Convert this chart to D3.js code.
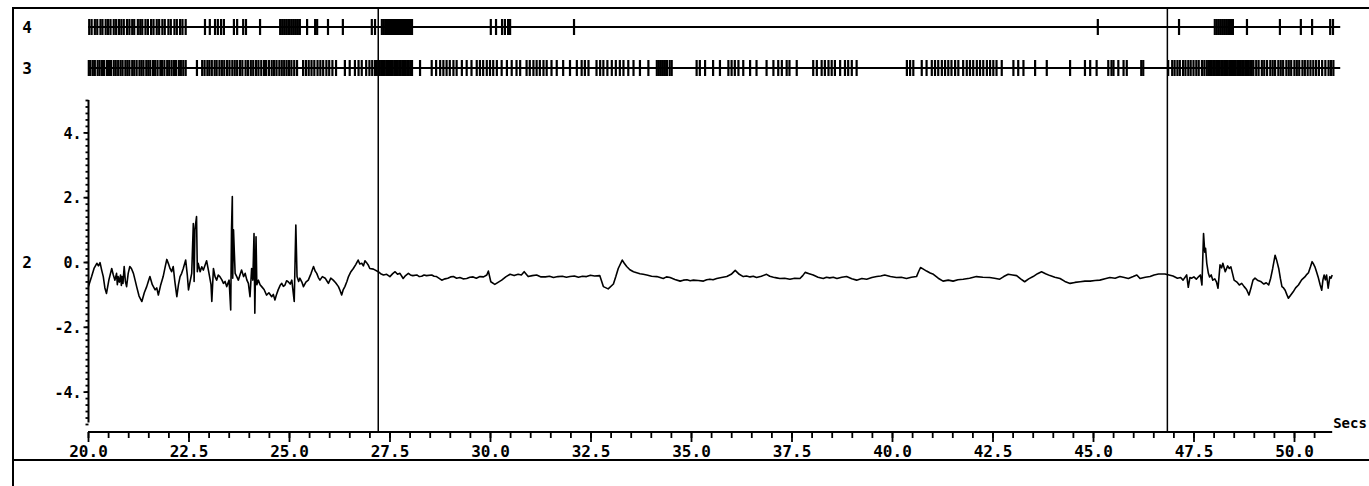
<!DOCTYPE html>
<html><head><meta charset="utf-8">
<script src="https://cdn.jsdelivr.net/npm/d3@7"></script>
<style>
body{margin:0;background:#fff}
svg{display:block}
text{font-family:"DejaVu Sans Mono","Liberation Mono",monospace;font-weight:bold;fill:#000}
</style>
</head><body>
<svg id="chart" width="1369" height="486"></svg>
<script>
// ---------------- data ----------------
const channelNames = ["4", "3", "2"];
const xTickValues = [20, 22.5, 25, 27.5, 30, 32.5, 35, 37.5, 40, 42.5, 45, 47.5, 50];
const yTickValues = [-4, -2, 0, 2, 4];
const xUnitLabel = "Secs";
const cursorTimes = [27.22, 46.85];

// spike times (s), channel 4
const spikesCh4 = [20.03,20.09,20.17,20.23,20.31,20.36,20.44,20.50,20.56,20.64,20.70,20.77,20.83,20.89,20.97,21.03,21.10,21.15,21.24,21.30,21.35,21.43,21.49,21.57,21.63,21.71,21.77,21.85,21.91,22.00,22.06,22.15,22.21,22.29,22.35,22.43,
22.91,23.03,23.16,23.23,23.31,23.38,23.63,23.71,23.86,23.93,24.28,
24.78,24.83,24.88,24.93,24.98,25.02,25.07,25.12,25.17,25.22,25.27,25.45,25.65,25.70,25.97,26.34,
27.06,27.14,27.31,27.36,27.41,27.46,27.51,27.56,27.61,27.66,27.71,27.76,27.81,27.86,27.91,27.96,28.01,28.06,
30.02,30.15,30.30,30.37,30.45,30.50,32.09,45.12,47.14,
48.03,48.08,48.13,48.18,48.23,48.28,48.33,48.38,48.43,48.48,48.83,49.65,50.17,50.45,50.90,50.97];

// spike times (s), channel 3
const spikesCh3 = [20.02,20.06,20.12,20.17,20.24,20.29,20.35,20.40,20.47,20.52,20.57,20.64,20.69,20.75,20.81,20.86,20.93,20.98,21.03,21.10,21.15,21.21,21.28,21.33,21.38,21.45,21.50,21.55,21.62,21.67,21.73,21.80,21.84,21.90,21.97,22.02,22.08,22.14,22.19,22.26,22.31,22.37,22.43,
22.71,
22.84,22.90,22.97,23.02,23.08,23.15,23.20,23.27,23.33,23.39,23.46,23.52,23.59,23.65,23.71,23.78,23.84,23.92,23.98,24.05,24.11,24.18,24.24,24.31,24.38,24.43,24.50,24.57,24.63,24.69,24.76,24.82,24.88,24.94,25.00,25.06,25.13,25.20,25.35,25.42,25.49,25.56,25.63,25.71,25.78,25.85,25.93,26.00,26.08,
26.17,26.39,26.51,26.64,26.73,26.81,26.92,27.00,27.07,
27.14,27.18,27.22,27.26,27.30,27.34,27.38,27.42,27.46,27.50,27.54,27.58,27.62,27.66,27.70,27.74,27.78,27.82,27.86,27.90,27.94,27.98,28.02,28.06,
28.26,28.55,28.66,28.76,28.84,28.92,29.00,29.09,29.17,29.30,29.42,29.54,29.67,29.75,29.83,29.92,30.00,30.08,30.17,30.29,30.42,30.54,30.66,30.75,30.91,30.99,31.08,31.16,31.24,31.33,31.41,31.53,31.66,31.82,31.99,32.16,32.28,32.36,32.45,32.65,32.74,32.82,32.92,33.03,33.13,33.23,33.32,33.44,33.57,33.73,33.94,34.15,34.20,34.25,34.30,34.35,34.40,34.47,34.52,
35.14,35.22,35.35,35.55,35.72,35.93,36.01,36.09,36.18,36.30,36.47,36.63,36.88,
37.05,37.17,37.26,37.38,37.45,37.63,38.04,38.13,38.25,38.33,38.42,38.50,38.58,38.71,38.83,38.91,39.00,39.12,
40.37,40.45,40.53,40.74,40.86,40.99,41.07,41.15,41.24,41.32,41.40,41.48,41.57,41.65,41.77,41.86,41.94,42.02,42.11,42.19,42.27,42.36,42.44,42.52,42.60,42.73,43.02,43.14,43.27,43.56,43.85,44.43,44.80,44.93,45.09,45.38,45.46,45.51,45.63,45.76,45.84,46.20,46.25,46.87,
46.97,47.03,47.10,47.16,47.24,47.30,47.37,47.43,47.50,47.57,47.63,47.71,47.77,47.83,47.87,47.91,47.95,47.99,48.03,48.07,48.11,48.15,48.19,48.23,48.27,48.31,48.35,48.39,48.43,48.47,48.51,48.55,48.59,48.63,48.67,48.71,48.75,48.79,48.83,48.87,48.91,48.95,48.99,
49.06,49.12,49.20,49.26,49.33,49.41,49.47,49.53,49.61,49.67,49.73,49.81,49.87,49.93,50.01,50.07,50.13,50.21,50.27,50.34,50.41,50.48,50.55,50.62,50.70,50.78,50.86,50.92,50.98];

// channel 2 trace samples: [time s, value]
const traceSamples = [
[20.01,-0.76],[20.05,-0.60],[20.09,-0.45],[20.15,-0.20],[20.22,-0.04],[20.26,-0.12],[20.30,-0.02],[20.34,-0.25],[20.38,-0.45],[20.42,-0.80],[20.46,-0.97],[20.52,-0.55],[20.59,-0.20],[20.63,-0.40],[20.67,-0.56],[20.71,-0.35],[20.73,-0.70],[20.75,-0.45],[20.78,-0.62],[20.81,-0.40],[20.83,-0.72],[20.85,-0.45],[20.87,-0.66],[20.90,-0.14],[20.93,-0.60],[20.96,-0.76],[21.00,-0.35],
[21.04,-0.14],[21.08,-0.20],[21.13,-0.35],[21.17,-0.55],[21.21,-0.76],[21.27,-1.05],[21.34,-1.22],[21.40,-0.95],[21.46,-0.76],[21.50,-0.60],[21.54,-0.45],[21.60,-0.70],[21.67,-0.86],[21.71,-0.80],[21.75,-1.02],[21.81,-0.70],[21.87,-0.45],[21.92,-0.15],[21.96,0.08],[22.00,-0.05],
[22.04,-0.20],[22.08,-0.30],[22.12,-0.14],[22.16,-0.60],[22.21,-1.07],[22.25,-0.70],[22.29,-0.45],[22.33,-0.35],[22.37,-0.20],[22.43,0.06],[22.47,-0.40],[22.50,-0.86],[22.54,-0.60],[22.58,-0.35],[22.62,1.19],[22.64,-0.60],[22.66,1.00],[22.70,1.40],[22.72,-0.30],[22.74,-0.04],[22.79,-0.30],[22.83,-0.15],[22.87,-0.25],[22.95,0.04],
[23.01,-0.35],[23.06,-0.70],[23.08,-1.22],[23.12,-0.20],[23.16,-0.45],[23.20,-0.56],[23.24,-0.40],[23.28,-0.45],[23.33,-0.55],[23.37,-0.66],[23.41,-0.60],[23.45,-0.76],[23.51,-0.56],[23.55,-1.48],[23.57,1.00],[23.59,2.02],[23.60,-0.50],[23.62,0.99],[23.64,0.30],[23.66,-0.35],[23.70,-0.45],[23.74,-0.56],[23.78,-0.40],[23.82,-0.25],[23.87,-0.45],[23.91,-0.35],[23.95,-0.55],[23.99,-0.66],
[24.03,-1.07],[24.07,-0.20],[24.10,-0.56],[24.13,0.88],[24.15,-1.58],[24.18,0.78],[24.20,-0.70],[24.24,-0.56],[24.28,-0.70],[24.32,-0.76],[24.38,-0.85],[24.44,-1.02],[24.50,-0.95],[24.57,-1.07],[24.61,-1.00],[24.65,-1.17],[24.69,-1.00],[24.73,-0.86],[24.78,-0.72],[24.82,-0.66],[24.86,-0.75],[24.90,-0.71],[24.94,-0.58],[24.98,-0.61],
[25.03,-0.68],[25.07,-0.56],[25.13,-1.22],[25.17,1.14],[25.20,-0.45],[25.24,-0.60],[25.27,-0.50],[25.32,-0.62],[25.36,-0.76],[25.42,-0.62],[25.48,-0.56],[25.55,-0.35],[25.61,-0.14],[25.65,-0.28],[25.69,-0.35],[25.73,-0.48],[25.77,-0.56],[25.83,-0.45],[25.90,-0.50],[25.94,-0.58],[25.98,-0.66],[26.04,-0.50],
[26.10,-0.56],[26.16,-0.64],[26.23,-0.76],[26.27,-0.88],[26.31,-1.02],[26.35,-0.85],[26.39,-0.76],[26.44,-0.60],[26.48,-0.45],[26.54,-0.30],[26.60,-0.20],[26.66,-0.08],[26.72,0.06],[26.76,-0.06],[26.81,-0.04],[26.85,-0.12],[26.89,0.04],[26.93,-0.02],[26.97,-0.09],
[27.01,-0.20],[27.10,-0.22],[27.22,-0.30],[27.28,-0.36],[27.35,-0.40],[27.43,-0.38],[27.51,-0.45],[27.58,-0.36],[27.64,-0.30],[27.70,-0.38],[27.76,-0.35],[27.84,-0.51],[27.90,-0.42],[27.97,-0.35],[28.02,-0.40],[28.08,-0.42],[28.18,-0.40],[28.24,-0.45],[28.30,-0.44],[28.36,-0.40],[28.42,-0.42],[28.55,-0.40],[28.61,-0.44],[28.67,-0.45],[28.80,-0.56],[28.88,-0.52],[28.95,-0.50],
[29.02,-0.46],[29.09,-0.45],[29.17,-0.50],[29.25,-0.48],[29.33,-0.52],[29.42,-0.51],[29.50,-0.47],[29.58,-0.46],[29.66,-0.50],[29.75,-0.45],[29.84,-0.46],[29.92,-0.40],[29.96,-0.28],[30.02,-0.61],[30.12,-0.69],[30.20,-0.63],[30.29,-0.56],[30.40,-0.45],[30.50,-0.38],[30.60,-0.42],[30.70,-0.38],[30.78,-0.40],[30.85,-0.30],[30.95,-0.45],[31.05,-0.42],
[31.16,-0.40],[31.27,-0.46],[31.38,-0.46],[31.48,-0.44],[31.58,-0.48],[31.69,-0.45],[31.80,-0.44],[31.90,-0.47],[31.99,-0.45],[32.10,-0.43],[32.20,-0.47],[32.30,-0.44],[32.40,-0.45],[32.50,-0.41],[32.60,-0.43],[32.73,-0.42],[32.82,-0.76],[32.94,-0.83],[33.07,-0.68],[33.13,-0.45],[33.19,-0.20],[33.29,0.06],[33.34,-0.04],[33.40,-0.14],[33.48,-0.24],[33.57,-0.30],[33.65,-0.33],[33.73,-0.36],[33.81,-0.38],[33.90,-0.40],[34.02,-0.44],
[34.15,-0.45],[34.23,-0.48],[34.31,-0.51],[34.39,-0.46],[34.48,-0.48],[34.60,-0.54],[34.73,-0.59],[34.81,-0.56],[34.90,-0.55],[34.98,-0.58],[35.06,-0.56],[35.18,-0.57],[35.31,-0.59],[35.39,-0.55],[35.47,-0.53],[35.55,-0.55],[35.64,-0.51],[35.76,-0.48],[35.89,-0.45],[36.00,-0.38],[36.10,-0.26],[36.20,-0.38],[36.30,-0.45],[36.38,-0.43],[36.47,-0.46],[36.55,-0.44],[36.63,-0.48],[36.75,-0.44],[36.88,-0.38],[36.96,-0.44],
[37.05,-0.47],[37.13,-0.49],[37.21,-0.51],[37.33,-0.50],[37.46,-0.53],[37.58,-0.50],[37.71,-0.51],[37.78,-0.42],[37.84,-0.32],[37.94,-0.36],[38.04,-0.40],[38.16,-0.47],[38.29,-0.51],[38.37,-0.47],[38.45,-0.49],[38.54,-0.47],[38.63,-0.51],[38.75,-0.47],[38.87,-0.45],[39.00,-0.52],[39.12,-0.56],[39.25,-0.51],[39.37,-0.53],[39.50,-0.48],[39.62,-0.45],[39.72,-0.43],[39.82,-0.40],[39.96,-0.45],
[40.11,-0.48],[40.23,-0.47],[40.36,-0.51],[40.48,-0.47],[40.61,-0.45],[40.66,-0.30],[40.71,-0.17],[40.78,-0.22],[40.86,-0.28],[40.95,-0.34],[41.03,-0.38],[41.15,-0.50],[41.27,-0.59],[41.40,-0.56],[41.52,-0.59],[41.64,-0.55],[41.77,-0.53],[41.93,-0.50],[42.10,-0.45],[42.26,-0.47],[42.43,-0.48],[42.55,-0.50],[42.68,-0.53],[42.78,-0.45],[42.89,-0.38],[43.00,-0.40],
[43.10,-0.42],[43.20,-0.52],[43.30,-0.61],[43.40,-0.52],[43.51,-0.45],[43.62,-0.36],[43.72,-0.30],[43.82,-0.36],[43.93,-0.42],[44.05,-0.47],[44.18,-0.51],[44.30,-0.60],[44.43,-0.66],[44.55,-0.63],[44.68,-0.61],[44.80,-0.59],[44.93,-0.59],[45.05,-0.57],[45.17,-0.56],[45.30,-0.52],[45.42,-0.48],[45.55,-0.50],[45.67,-0.45],[45.78,-0.48],[45.88,-0.51],[46.00,-0.45],[46.09,-0.40],[46.17,-0.51],[46.30,-0.47],[46.42,-0.45],[46.52,-0.40],[46.63,-0.37],
[46.79,-0.37],[46.89,-0.40],[46.99,-0.43],[47.10,-0.50],[47.18,-0.48],[47.24,-0.56],[47.33,-0.40],[47.37,-0.78],[47.41,-0.48],[47.45,-0.50],[47.51,-0.46],[47.57,-0.53],[47.63,-0.45],[47.67,-0.40],[47.71,-0.71],[47.75,0.88],[47.78,0.30],[47.80,0.42],[47.83,-0.04],[47.87,-0.35],[47.90,-0.46],[47.94,-0.40],[47.98,-0.56],
[48.03,-0.52],[48.07,-0.61],[48.11,-0.81],[48.16,-0.09],[48.20,-0.18],[48.23,-0.04],[48.29,-0.30],[48.35,-0.12],[48.39,-0.20],[48.43,-0.15],[48.47,-0.35],[48.51,-0.56],[48.58,-0.62],[48.64,-0.71],[48.70,-0.66],[48.76,-0.76],[48.82,-0.85],[48.88,-1.02],[48.93,-0.80],[48.98,-0.56],
[49.03,-0.50],[49.09,-0.56],[49.17,-0.60],[49.25,-0.68],[49.31,-0.64],[49.37,-0.71],[49.42,-0.50],[49.47,-0.20],[49.53,0.21],[49.57,0.05],[49.62,-0.20],[49.66,-0.50],[49.70,-0.76],[49.74,-0.80],[49.78,-0.87],[49.82,-1.00],[49.86,-1.12],[49.92,-1.02],[49.98,-0.92],
[50.04,-0.80],[50.11,-0.71],[50.19,-0.55],[50.27,-0.46],[50.32,-0.38],[50.36,-0.33],[50.41,-0.15],[50.45,0.01],[50.48,-0.05],[50.52,-0.15],[50.56,-0.30],[50.60,-0.46],[50.65,-0.70],[50.69,-0.87],[50.72,-0.55],[50.75,-0.40],[50.78,-0.55],[50.81,-0.40],[50.85,-0.81],[50.89,-0.46],[50.92,-0.50],[50.95,-0.40]
];

const axisEndTime = 50.95;     // end of the time axis line
const rasterEndTime = 51.15;   // end of the raster baselines
const yMinorStep = 0.2;
const xMinorStep = 0.5;

// ---------------- drawing ----------------
const svg = d3.select("#chart");
const x = d3.scaleLinear().domain([20, 50]).range([88, 1294]);
const y = d3.scaleLinear().domain([-5, 5]).range([424, 100]);
const rowY = {"4": 27, "3": 68};
const axisY = 432;
const frameTop = 8, frameLeft = 13, frameBottom = 460;

// frame
svg.append("path")
  .attr("d", `M${frameLeft},486 V${frameTop} H1369 M${frameLeft - 1},${frameBottom} H1369`)
  .attr("fill", "none").attr("stroke", "#000").attr("stroke-width", 2);

// cursor lines
svg.selectAll("line.cursor").data(cursorTimes).join("line")
  .attr("class", "cursor")
  .attr("x1", d => x(d)).attr("x2", d => x(d))
  .attr("y1", frameTop).attr("y2", axisY)
  .attr("stroke", "#000").attr("stroke-width", 1.5);

// raster rows
function raster(name, spikes) {
  const g = svg.append("g");
  const yy = rowY[name];
  g.append("line").attr("x1", x(20)).attr("x2", x(rasterEndTime))
    .attr("y1", yy).attr("y2", yy).attr("stroke", "#000").attr("stroke-width", 1.8);
  g.selectAll("line.sp").data(spikes).join("line")
    .attr("class", "sp")
    .attr("x1", d => x(d)).attr("x2", d => x(d))
    .attr("y1", yy - 8).attr("y2", yy + 8)
    .attr("stroke", "#000").attr("stroke-width", 2.2);
}
raster("4", spikesCh4);
raster("3", spikesCh3);

// channel labels
const labelY = {"4": rowY["4"], "3": rowY["3"], "2": y(0)};
svg.selectAll("text.ch").data(channelNames).join("text")
  .attr("class", "ch")
  .attr("x", 27).attr("y", d => labelY[d] + 6)
  .attr("text-anchor", "middle").attr("font-size", 16)
  .text(d => d);

// y axis
const yMinor = d3.range(-5, 5 + 1e-9, yMinorStep);
const yMinorAxis = d3.axisLeft(y).tickValues(yMinor).tickSize(3).tickFormat("");
const gyMinor = svg.append("g").attr("transform", "translate(88.5,0)").call(yMinorAxis);
gyMinor.select(".domain").remove();
gyMinor.selectAll("line").attr("stroke-width", 1.8);
const yAxis = d3.axisLeft(y).tickValues(yTickValues).tickSize(5).tickPadding(2)
  .tickFormat(d => d + ".");
const gy = svg.append("g").attr("transform", "translate(88.5,0)").call(yAxis);
gy.select(".domain").remove();
gy.selectAll("line").attr("stroke-width", 1.8);
gy.selectAll("text").attr("font-size", 15).attr("font-family", null).attr("dy", "0.38em");
svg.append("line").attr("x1", 88.5).attr("x2", 88.5).attr("y1", y(5)).attr("y2", y(-4.95))
  .attr("stroke", "#000").attr("stroke-width", 2);

// x axis
const xMinor = d3.range(20, axisEndTime, xMinorStep);
const xMinorAxis = d3.axisBottom(x).tickValues(xMinor).tickSize(6).tickFormat("");
const gxMinor = svg.append("g").attr("transform", `translate(0,${axisY})`).call(xMinorAxis);
gxMinor.select(".domain").remove();
gxMinor.selectAll("line").attr("stroke-width", 1.8);
const xAxis = d3.axisBottom(x).tickValues(xTickValues).tickSize(10).tickPadding(4)
  .tickFormat(d3.format(".1f"));
const gx = svg.append("g").attr("transform", `translate(0,${axisY})`).call(xAxis);
gx.select(".domain").remove();
gx.selectAll("text").attr("font-size", 16).attr("font-family", null);
gx.selectAll("line").attr("stroke-width", 1.8);
svg.append("line").attr("x1", x(20)).attr("x2", x(axisEndTime))
  .attr("y1", axisY).attr("y2", axisY).attr("stroke", "#000").attr("stroke-width", 2);
svg.append("text").attr("x", x(axisEndTime) + 1).attr("y", axisY - 4)
  .attr("font-size", 14).text(xUnitLabel);

// trace
const line = d3.line().x(d => x(d[0])).y(d => y(d[1]));
svg.append("path").datum(traceSamples)
  .attr("d", line).attr("fill", "none")
  .attr("stroke", "#000").attr("stroke-width", 1.6).attr("stroke-linejoin", "round");
</script>
</body></html>
